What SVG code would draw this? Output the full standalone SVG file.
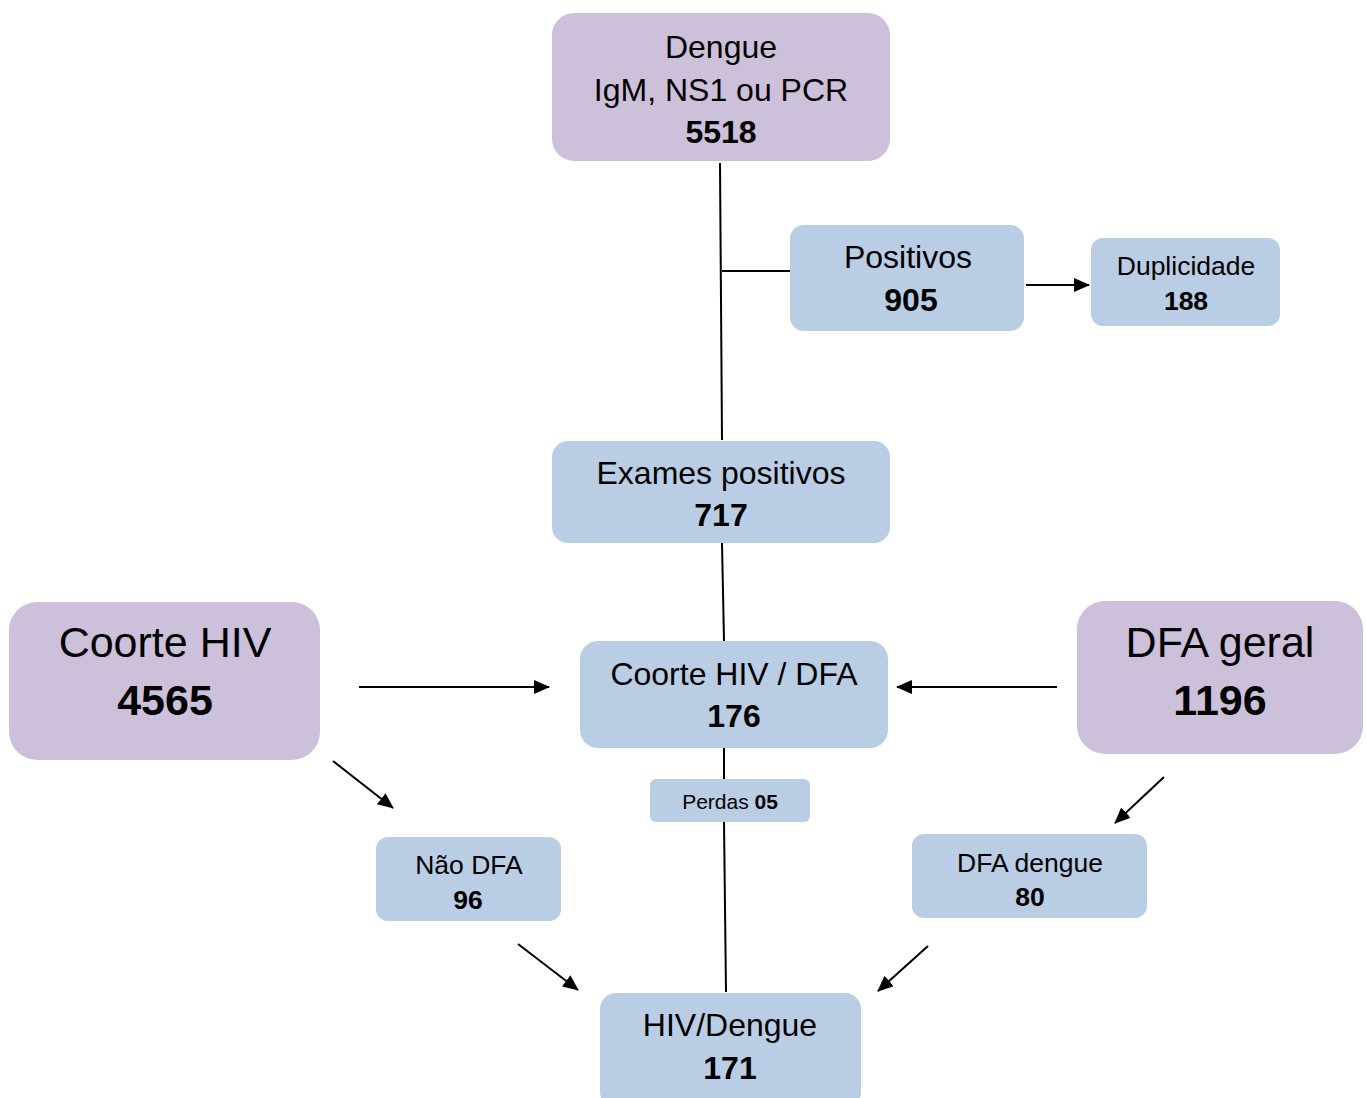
<svg xmlns="http://www.w3.org/2000/svg" width="1366" height="1098" viewBox="0 0 1366 1098">
<style>
.p{fill:#CCC0DA}
.b{fill:#B9CDE5}
text{font-family:"Liberation Sans",Arial,sans-serif;fill:#000;text-anchor:middle}
.t29{font-size:32px}
.t40{font-size:43px}
.t24{font-size:26.5px}
.t19{font-size:21px}
.bd{font-weight:bold}
.ln{stroke:#000;stroke-width:2;fill:none}
</style>
<defs>
<marker id="ah" markerWidth="8" markerHeight="7" refX="7.5" refY="3.5" orient="auto" markerUnits="strokeWidth">
<path d="M0,0 L8,3.5 L0,7 Z" fill="#000"/>
</marker>
</defs>
<g id="connectors">
<path class="ln" d="M720,163 L722,440"/>
<path class="ln" d="M722,271 L790,271"/>
<path class="ln" d="M1026,285 L1089,285" marker-end="url(#ah)"/>
<path class="ln" d="M722,543 L724,641"/>
<path class="ln" d="M359,687 L549,687" marker-end="url(#ah)"/>
<path class="ln" d="M1057,687 L897,687" marker-end="url(#ah)"/>
<path class="ln" d="M724,748 L724,779"/>
<path class="ln" d="M724,822 L726,992"/>
<path class="ln" d="M333,761 L393,808" marker-end="url(#ah)"/>
<path class="ln" d="M1164,777 L1115,823" marker-end="url(#ah)"/>
<path class="ln" d="M518,944 L578,990" marker-end="url(#ah)"/>
<path class="ln" d="M928,946 L878,991" marker-end="url(#ah)"/>
</g>
<g id="dengue">
<rect class="p" x="552" y="13" width="338" height="148" rx="22"/>
<text class="t29" x="721" y="58">Dengue</text>
<text class="t29" x="721" y="101">IgM, NS1 ou PCR</text>
<text class="t29 bd" x="721" y="143">5518</text>
</g>
<g id="positivos">
<rect class="b" x="790" y="225" width="234" height="106" rx="14"/>
<text class="t29" x="908" y="268">Positivos</text>
<text class="t29 bd" x="911" y="311">905</text>
</g>
<g id="duplicidade">
<rect class="b" x="1091" y="238" width="189" height="88" rx="12"/>
<text class="t24" x="1186" y="275">Duplicidade</text>
<text class="t24 bd" x="1186" y="310">188</text>
</g>
<g id="exames">
<rect class="b" x="552" y="441" width="338" height="102" rx="16"/>
<text class="t29" x="721" y="484">Exames positivos</text>
<text class="t29 bd" x="721" y="526">717</text>
</g>
<g id="coorte-hiv">
<rect class="p" x="9" y="602" width="311" height="158" rx="28"/>
<text class="t40" x="165" y="657">Coorte HIV</text>
<text class="t40 bd" x="165" y="715">4565</text>
</g>
<g id="coorte-hiv-dfa">
<rect class="b" x="580" y="641" width="308" height="107" rx="18"/>
<text class="t29" x="734" y="685">Coorte HIV / DFA</text>
<text class="t29 bd" x="734" y="727">176</text>
</g>
<g id="dfa-geral">
<rect class="p" x="1077" y="601" width="286" height="153" rx="28"/>
<text class="t40" x="1220" y="657">DFA geral</text>
<text class="t40 bd" x="1220" y="715">1196</text>
</g>
<g id="perdas">
<rect class="b" x="650" y="779" width="160" height="43" rx="6"/>
<text class="t19" x="730" y="809">Perdas <tspan class="bd">05</tspan></text>
</g>
<g id="nao-dfa">
<rect class="b" x="376" y="837" width="185" height="84" rx="12"/>
<text class="t24" x="469" y="874">Não DFA</text>
<text class="t24 bd" x="468" y="909">96</text>
</g>
<g id="dfa-dengue">
<rect class="b" x="912" y="834" width="235" height="84" rx="12"/>
<text class="t24" x="1030" y="872">DFA dengue</text>
<text class="t24 bd" x="1030" y="906">80</text>
</g>
<g id="hiv-dengue">
<rect class="b" x="600" y="993" width="261" height="115" rx="16"/>
<text class="t29" x="730" y="1036">HIV/Dengue</text>
<text class="t29 bd" x="730" y="1079">171</text>
</g>
</svg>
